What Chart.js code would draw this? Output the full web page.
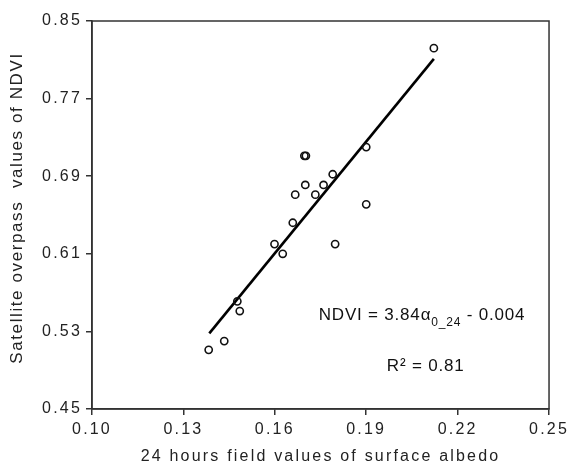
<!DOCTYPE html>
<html>
<head>
<meta charset="utf-8">
<script src="https://cdn.jsdelivr.net/npm/chart.js@4"></script>
<style>
  html, body { margin: 0; padding: 0; background: #fff; }
  #wrap { width: 574px; height: 465px; }
</style>
</head>
<body>
<div id="wrap"><canvas id="albedoChart" width="574" height="465"></canvas></div>
<script>
// values
const albedo = [0.1383, 0.1434, 0.1477, 0.1485, 0.1599, 0.1626, 0.1659, 0.1667, 0.1697, 0.1702,
                0.1700, 0.1733, 0.1760, 0.1790, 0.1798, 0.1900, 0.1900, 0.2122];
const ndvi   = [0.511, 0.520, 0.561, 0.551, 0.620, 0.610, 0.642, 0.671, 0.711, 0.711,
                0.681, 0.671, 0.681, 0.692, 0.620, 0.720, 0.661, 0.822];

// fitted line end points
const fitX = [0.1385, 0.2122];
const fitY = [0.528, 0.811];

const xTicks = [0.10, 0.13, 0.16, 0.19, 0.22, 0.25];
const yTicks = [0.45, 0.53, 0.61, 0.69, 0.77, 0.85];

const xTitle = '24 hours field values of surface albedo';
const yTitle = 'Satellite overpass  values of NDVI';

const FONT = '"Liberation Sans", Arial, sans-serif';
const SPACING = '2.2px';   // horizontal text in the figure is set wide

const spacingPlugin = {
    id: 'spacing',
    beforeInit: c => { c.ctx.letterSpacing = SPACING; },
    beforeLayout: c => { c.ctx.letterSpacing = SPACING; },
    beforeDraw: c => { c.ctx.letterSpacing = SPACING; }
};

// box around the plot, y title, equation text
const framePlugin = {
    id: 'frame',
    afterDraw: function(c) {
        const ctx = c.ctx, a = c.chartArea;
        const sx = c.scales.x, sy = c.scales.y;
        ctx.save();
        ctx.strokeStyle = '#333';
        ctx.lineWidth = 1.5;
        ctx.strokeRect(a.left, a.top, a.right - a.left, a.bottom - a.top);

        // y axis title (vertical text is not stretched like the rest)
        ctx.save();
        ctx.letterSpacing = '1.6px';
        ctx.fillStyle = '#222';
        ctx.font = '17px ' + FONT;
        ctx.textAlign = 'center';
        ctx.textBaseline = 'middle';
        ctx.translate(17.5, (a.top + a.bottom) / 2 - 7);
        ctx.rotate(-Math.PI / 2);
        ctx.fillText(yTitle, 0, 0);
        ctx.restore();

        ctx.letterSpacing = '0.8px';
        ctx.fillStyle = '#111';
        ctx.textBaseline = 'alphabetic';

        // NDVI = 3.84α0_24 - 0.004
        const p1 = 'NDVI = 3.84\u03b1', sub = '0_24', p2 = ' - 0.004';
        ctx.font = '17px ' + FONT;
        const w1 = ctx.measureText(p1).width, w3 = ctx.measureText(p2).width;
        ctx.font = '12px ' + FONT;
        const w2 = ctx.measureText(sub).width;
        let x = sx.getPixelForValue(0.2083) - (w1 + w2 + w3) / 2;
        const y = sy.getPixelForValue(0.542);
        ctx.font = '17px ' + FONT;
        ctx.fillText(p1, x, y); x += w1;
        ctx.font = '12px ' + FONT;
        ctx.fillText(sub, x, y + 6); x += w2;
        ctx.font = '17px ' + FONT;
        ctx.fillText(p2, x, y);

        ctx.textAlign = 'center';
        ctx.fillText('R\u00b2 = 0.81', sx.getPixelForValue(0.2095), sy.getPixelForValue(0.489));
        ctx.restore();
    }
};

const pts = albedo.map((v, i) => ({ x: v, y: ndvi[i] }));
const fitPts = fitX.map((v, i) => ({ x: v, y: fitY[i] }));

new Chart(document.getElementById('albedoChart'), {
    type: 'scatter',
    data: {
        datasets: [
            { label: 'fit', data: fitPts, showLine: true, borderColor: '#000', borderWidth: 2.6, pointRadius: 0, order: 2 },
            { label: 'obs', data: pts, pointStyle: 'circle', pointRadius: 3.6, borderColor: '#111', borderWidth: 1.6, backgroundColor: 'rgba(255,255,255,0)', order: 1 }
        ]
    },
    options: {
        responsive: false,
        animation: false,
        devicePixelRatio: 1,
        layout: { padding: { top: 21, right: 21, bottom: 0, left: 0 } },
        plugins: { legend: { display: false }, tooltip: { enabled: false } },
        scales: {
            x: {
                type: 'linear', min: 0.10, max: 0.25,
                afterBuildTicks: s => { s.ticks = xTicks.map(v => ({ value: v })); },
                afterFit: s => { s.height = 56; },
                ticks: { color: '#222', font: { family: FONT, size: 16 }, padding: 5, maxRotation: 0,
                         callback: v => v.toFixed(2) },
                grid: { drawOnChartArea: false, drawTicks: true, tickLength: 6, color: '#333', lineWidth: 1.5 },
                border: { display: true, color: '#333', width: 1.5 },
                title: { display: true, text: xTitle, color: '#222', font: { family: FONT, size: 16, lineHeight: 1 },
                         padding: { top: 0, bottom: 0 } }
            },
            y: {
                type: 'linear', min: 0.45, max: 0.85,
                afterBuildTicks: s => { s.ticks = yTicks.map(v => ({ value: v })); },
                afterFit: s => { s.width = 92; },
                ticks: { color: '#222', font: { family: FONT, size: 16 }, padding: 4,
                         callback: v => v.toFixed(2) },
                grid: { drawOnChartArea: false, drawTicks: true, tickLength: 6, color: '#333', lineWidth: 1.5 },
                border: { display: true, color: '#333', width: 1.5 },
                title: { display: false }
            }
        }
    },
    plugins: [spacingPlugin, framePlugin]
});
</script>
</body>
</html>
